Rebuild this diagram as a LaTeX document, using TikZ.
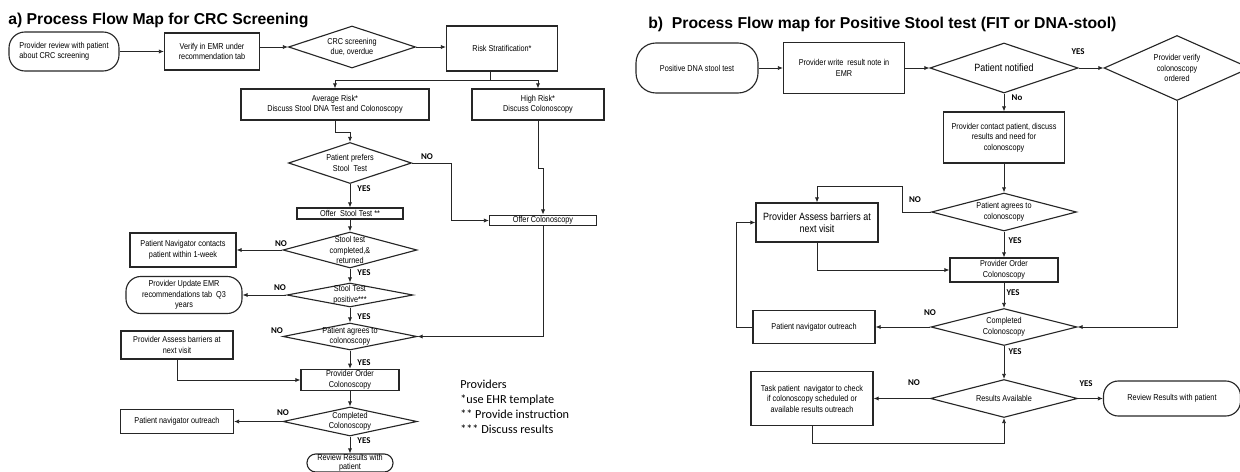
\documentclass[tikz,border=0pt]{standalone}
\usepackage{fontspec}
\setmainfont{Liberation Sans}
\newfontfamily\narrowfont[FakeStretch=0.85]{Liberation Sans}
\newfontfamily\calfont{Carlito}
\usetikzlibrary{arrows.meta,shapes.geometric}

\newcommand{\flowfont}{\narrowfont\fontsize{6.1}{7.5}\selectfont}
\newcommand{\tightflowfont}{\narrowfont\fontsize{6.1}{6.6}\selectfont}
\newcommand{\bigflowfont}{\narrowfont\fontsize{7.5}{8.2}\selectfont}
\newcommand{\ynfont}{\calfont\bfseries\fontsize{6.3}{7}\selectfont}
\newcommand{\notefont}{\calfont\fontsize{8.7}{10.7}\selectfont}
\newcommand{\ttlfont}{\bfseries\fontsize{11.2}{13}\selectfont}

\tikzset{
  wh/.style 2 args={minimum width=#1*0.025cm, minimum height=#2*0.025cm},
  box/.style={draw=black!85, line width=0.8pt, rectangle, align=center, inner sep=1pt, font=\flowfont},
  term/.style={box, rounded corners=#1},
  term/.default=0.4cm,
  dec/.style={box, diamond, inner sep=-30pt},
  flow/.style={draw=black!85, line width=0.6pt, -{Latex[length=3.6pt,width=3pt]}},
  link/.style={draw=black!85, line width=0.6pt},
  yn/.style={inner sep=0pt, font=\ynfont},
  ttl/.style={inner sep=0pt, anchor=base west, font=\ttlfont},
  note/.style={inner sep=0pt, anchor=west, align=left, font=\notefont}
}

\begin{document}
\begin{tikzpicture}[x=0.025cm, y=-0.025cm]
   \useasboundingbox (0,0) rectangle (1240,472);
   \clip (0,0) rectangle (1240,472);

   \draw (8,25) node[ttl] (titlea) {a) Process Flow Map for CRC Screening};
   \draw (648,29) node[ttl] (titleb) {b)\ \ Process Flow map for Positive Stool test (FIT or DNA-stool)};

   \draw (64,51.5) node[term, wh={110}{39}, align=left] (provrev) {Provider review with patient\\about CRC screening};
   \draw (212,51.5) node[box, wh={95}{37}] (emr) {Verify in EMR under\\recommendation tab};
     \draw (352,47) node[dec, wh={127}{42}] (due) {CRC screening\\due, overdue};
   \draw (502,48.5) node[box, wh={111}{45}] (risk) {Risk Stratification*};
   \draw (335,104.5) node[box, wh={188}{31}] (avg) {Average Risk*\\Discuss Stool DNA Test and Colonoscopy};
   \draw (538,104.5) node[box, wh={132}{31}] (high) {High Risk*\\Discuss Colonoscopy};
     \draw (350,163) node[dec, wh={123}{41}] (prefer) {Patient prefers\\Stool\ \ Test};
   \draw (350,213.5) node[box, wh={106}{11}] (offerstool) {Offer\ \ Stool Test **};
   \draw (543,220.5) node[box, wh={107}{10}] (offercolo) {Offer Colonoscopy};
     \draw (350,250) node[dec, wh={134}{36}] (stooldone) {Stool test\\completed,\&\\returned};
   \draw (183,250) node[box, wh={106}{34}] (navcall) {Patient Navigator contacts\\patient within 1-week};
     \draw (350,295) node[dec, wh={126}{24}] (stoolpos) {Stool Test\\positive***};
   \draw (184,295) node[term=0.37cm, wh={116}{37}] (emrupdate) {Provider Update EMR\\recommendations tab\ \ Q3\\years};
     \draw (350,336.5) node[dec, wh={134}{27}] (agreea) {Patient agrees to\\colonoscopy};
   \draw (177,345) node[box, wh={112}{28}] (assessa) {Provider Assess barriers at\\next visit};
   \draw (350,380) node[box, wh={98}{18}] (ordera) {Provider Order\\Colonoscopy};
     \draw (350,421.5) node[dec, wh={134}{29}] (donea) {Completed\\Colonoscopy};
   \draw (177,421.5) node[box, wh={113}{24}] (outreacha) {Patient navigator outreach};
   \draw (350,463) node[term=0.22cm, wh={86}{18}, inner sep=0pt, font=\tightflowfont] (reviewa) {Review Results with\\patient};
   \draw (460,406.5) node[note] (notes) {Providers\\{}*use EHR template\\{}** Provide instruction\\{}*** Discuss results};

   \draw (427,157) node[yn] (no1) {NO};
   \draw (364,189) node[yn] (yes1) {YES};
   \draw (281,244) node[yn] (no2) {NO};
   \draw (364,273) node[yn] (yes2) {YES};
   \draw (280,288) node[yn] (no3) {NO};
   \draw (364,317) node[yn] (yes3) {YES};
   \draw (277,331) node[yn] (no4) {NO};
   \draw (364,363) node[yn] (yes4) {YES};
   \draw (283,413) node[yn] (no5) {NO};
   \draw (364,441) node[yn] (yes5) {YES};

     \draw[flow] (provrev) -- (emr);
     \draw[flow] (emr.east |- due) -- (due);
     \draw[flow] (due) -- (due -| risk.west);
   \coordinate (split) at (490,80);
     \draw[link] (risk.south -| split) -- (split);
     \draw[flow] (split) -| (avg.north);
     \draw[flow] (split) -| (high.north);
     \draw[flow] (avg.south) -- ++(0,12) -| (prefer.north);
     \draw[flow] (prefer) -- (offerstool);
     \draw[flow] (prefer.east) -- ++(39,0) |- (offercolo.west);
     \draw[flow] (high.south) -- ++(0,48) -| (offercolo.north);
     \draw[flow] (offerstool) -- (stooldone);
     \draw[flow] (stooldone) -- (navcall);
     \draw[flow] (stooldone) -- (stoolpos);
     \draw[flow] (stoolpos) -- (emrupdate);
     \draw[flow] (stoolpos) -- (agreea);
     \draw[flow] (offercolo.south) |- (agreea.east);
     \draw[flow] (agreea) -- (ordera);
     \draw[flow] (assessa.south) |- (ordera.west);
     \draw[flow] (ordera) -- (donea);
     \draw[flow] (donea) -- (outreacha);
     \draw[flow] (donea) -- (reviewa);

   \draw (697,68) node[term=0.5cm, wh={122}{50}] (posdna) {Positive DNA stool test};
   \draw (844,68) node[box, wh={121}{51}] (resnote) {Provider write\ \ result note in\\EMR};
     \draw (1004,68) node[dec, wh={148}{50}, font=\bigflowfont] (notified) {Patient notified};
     \draw (1177,68) node[dec, wh={146}{65}] (ordered) {Provider verify\\colonoscopy\\ordered};
   \draw (1004,137.5) node[box, wh={121}{51}] (contact) {Provider contact patient, discuss\\results and need for\\colonoscopy};
     \draw (1004,212) node[dec, wh={145}{38}] (agreeb) {Patient agrees to\\colonoscopy};
   \draw (817,222.5) node[box, wh={122}{39}, font=\bigflowfont] (assessb) {Provider Assess barriers at\\next visit};
   \draw (1004,270) node[box, wh={108}{24}] (orderb) {Provider Order\\Colonoscopy};
     \draw (1004,327) node[dec, wh={146}{37}] (doneb) {Completed\\Colonoscopy};
   \draw (814,327) node[box, wh={122}{33}] (outreachb) {Patient navigator outreach};
     \draw (1004,398.5) node[dec, wh={147}{38}] (results) {Results Available};
   \draw (812,398.5) node[box, wh={122}{54}] (navtask) {Task patient\ \ navigator to check\\if colonoscopy scheduled or\\available results outreach};
   \draw (1172,398.5) node[term=0.37cm, wh={137}{35}] (reviewb) {Review Results with patient};

   \draw (1078,52) node[yn] (yes6) {YES};
   \draw (1017,98) node[yn] (no6) {No};
   \draw (915,200) node[yn] (no7) {NO};
   \draw (1015,241) node[yn] (yes7) {YES};
   \draw (1013,293) node[yn] (yes8) {YES};
   \draw (930,313) node[yn] (no8) {NO};
   \draw (1015,352) node[yn] (yes9) {YES};
   \draw (914,383) node[yn] (no9) {NO};
   \draw (1086,384) node[yn] (yes10) {YES};

     \draw[flow] (posdna) -- (resnote);
     \draw[flow] (resnote) -- (notified);
     \draw[flow] (notified) -- (ordered);
     \draw[flow] (notified) -- (contact);
     \draw[flow] (contact) -- (agreeb);
     \draw[flow] (agreeb.west) -- ++(-29,0) -- ++(0,-26) -| (assessb.north);
     \draw[flow] (agreeb) -- (orderb);
     \draw[flow] (assessb.south) |- (orderb.west);
     \draw[flow] (orderb) -- (doneb);
     \draw[flow] (doneb) -- (outreachb);
     \draw[flow] (outreachb.west) -- ++(-16,0) |- (assessb.west);
     \draw[flow] (ordered.south) |- (doneb.east);
     \draw[flow] (doneb) -- (results);
     \draw[flow] (results) -- (navtask);
     \draw[flow] (navtask.south) -- ++(0,17) -| (results.south);
     \draw[flow] (results) -- (reviewb);

\end{tikzpicture}
\end{document}
